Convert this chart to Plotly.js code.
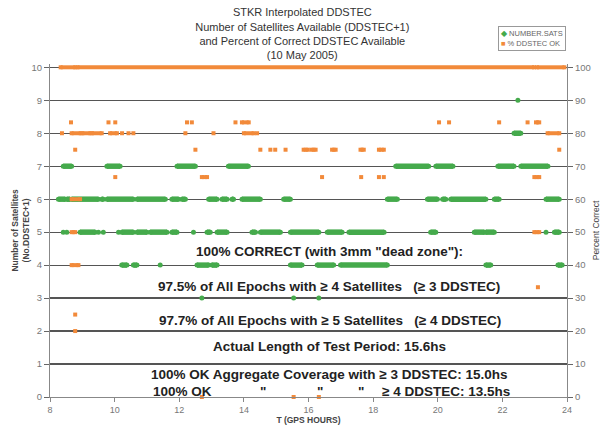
<!DOCTYPE html>
<html>
<head>
<meta charset="utf-8">
<script src="https://cdn.plot.ly/plotly-3.0.1.min.js"></script>
<style>
  html, body { margin: 0; padding: 0; background: #fff; }
  #chart { width: 601px; height: 428px; }
</style>
</head>
<body>
<div id="chart"></div>
<script>
// ---- Data (GPS hours; each entry is an observed run start/end, equal start & end = single epoch) ----
// Number of satellites available
const satStart = [22.48, 22.36,
  8.41, 9.76, 11.93, 13.52, 18.70, 19.94, 21.86, 22.57,
  8.26, 8.52, 8.67, 9.60, 9.76, 10.69, 11.77, 12.08, 12.91, 13.32, 13.63, 13.94, 15.23, 18.44, 19.68, 20.15, 20.40, 21.75, 23.35,
  8.41, 8.52, 8.93, 9.50, 9.65, 10.12, 10.22, 10.69, 11.10, 11.77, 12.44, 12.86, 13.17, 14.25, 14.51, 15.44, 16.58, 17.25, 19.78, 21.13, 21.49, 23.35, 23.61,
  10.22, 10.58, 11.41, 12.55, 13.01, 15.44, 16.27, 16.99, 21.49, 23.72,
  12.70, 15.54, 16.32];
const satEnd = [22.48, 22.57,
  8.67, 10.17, 12.50, 14.14, 19.72, 20.47, 22.36, 23.41,
  8.47, 8.62, 9.50, 9.65, 10.58, 11.57, 11.98, 12.19, 13.17, 13.48, 13.68, 14.51, 15.44, 18.75, 19.99, 20.25, 21.49, 21.90, 23.76,
  8.41, 8.52, 9.40, 9.50, 9.65, 10.12, 10.58, 11.00, 11.62, 11.93, 12.44, 12.96, 13.48, 14.36, 15.13, 16.32, 17.04, 18.34, 19.94, 21.44, 21.75, 23.35, 23.76,
  10.38, 10.69, 11.41, 12.91, 13.17, 15.80, 16.78, 18.44, 21.64, 23.85,
  12.70, 15.54, 16.32];
const satCount = [9, 8,
  7, 7, 7, 7, 7, 7, 7, 7,
  6, 6, 6, 6, 6, 6, 6, 6, 6, 6, 6, 6, 6, 6, 6, 6, 6, 6, 6,
  5, 5, 5, 5, 5, 5, 5, 5, 5, 5, 5, 5, 5, 5, 5, 5, 5, 5, 5, 5, 5, 5, 5,
  4, 4, 4, 4, 4, 4, 4, 4, 4, 4,
  3, 3, 3];

// Percent of correct DDSTEC
const pctStart = [8.33, 8.85, 23.07,
  8.65, 9.81, 10.02, 12.24, 12.39, 13.74, 13.94, 20.04, 20.35, 21.90, 22.78, 23.04,
  8.37, 8.67, 9.00, 9.30, 9.86, 10.23, 10.43, 10.58, 12.19, 13.06, 14.00, 14.41, 23.40,
  8.78, 12.50, 14.51, 14.82, 14.97, 15.29, 15.85, 16.10, 16.73, 17.61, 18.18, 23.76,
  10.02, 12.70, 16.42, 17.63, 18.18, 18.33, 22.99,
  8.67, 8.67, 22.99, 8.67, 23.10, 8.78, 8.78,
  12.70, 15.54, 16.32];
const pctEnd = [8.78, 22.98, 23.92,
  8.65, 9.81, 10.02, 12.24, 12.39, 13.74, 14.15, 20.04, 20.35, 21.90, 22.78, 23.14,
  8.37, 8.95, 9.25, 9.60, 10.07, 10.23, 10.43, 10.58, 12.19, 13.06, 14.30, 14.41, 23.76,
  8.78, 12.50, 14.51, 14.82, 14.97, 15.29, 15.98, 16.22, 16.84, 17.71, 18.33, 23.76,
  10.02, 12.86, 16.42, 17.63, 18.18, 18.33, 23.14,
  8.93, 8.78, 23.14, 8.88, 23.10, 8.78, 8.78,
  12.70, 15.54, 16.32];
const pctValue = [100, 100, 100,
  83.3, 83.3, 83.3, 83.3, 83.3, 83.3, 83.3, 83.3, 83.3, 83.3, 83.3, 83.3,
  80, 80, 80, 80, 80, 80, 80, 80, 80, 80, 80, 80, 80,
  75, 75, 75, 75, 75, 75, 75, 75, 75, 75, 75, 75,
  66.7, 66.7, 66.7, 66.7, 66.7, 66.7, 66.7,
  60, 50, 50, 40, 33.3, 25, 20,
  0, 0, 0];

const xTicks = [8, 10, 12, 14, 16, 18, 20, 22, 24];
const yTicks = [0, 1, 2, 3, 4, 5, 6, 7, 8, 9, 10];
const y2Ticks = [0, 10, 20, 30, 40, 50, 60, 70, 80, 90, 100];
const seriesNames = ['NUMBER.SATS', '% DDSTEC OK'];

function runs(starts, ends, vals) {
  const x = [], y = [];
  for (let i = 0; i < starts.length; i++) {
    if (starts[i] === ends[i]) { x.push(starts[i], null); y.push(vals[i], null); }
    else { x.push(starts[i], ends[i], null); y.push(vals[i], vals[i], null); }
  }
  return {x, y};
}

const GREEN = '#45aa4c';
const ORANGE = '#f28a3a';
const sat = runs(satStart, satEnd, satCount);
const pct = runs(pctStart, pctEnd, pctValue);

const traces = [
  {x: sat.x, y: sat.y, type: 'scatter', mode: 'lines+markers', name: seriesNames[0],
   line: {color: GREEN, width: 5.5}, marker: {color: GREEN, size: 5, symbol: 'circle'},
   connectgaps: false, cliponaxis: false, showlegend: false, xaxis: 'x', yaxis: 'y'},
  {x: pct.x, y: pct.y, type: 'scatter', mode: 'lines+markers', name: seriesNames[1],
   line: {color: ORANGE, width: 4}, marker: {color: ORANGE, size: 4, symbol: 'square'},
   connectgaps: false, cliponaxis: false, showlegend: false, xaxis: 'x', yaxis: 'y2'}
];

const FONT = 'Liberation Sans, Arial, sans-serif';
const annFont = {family: FONT, size: 13.5, color: '#222'};
function ann(text, x, y, xanchor) {
  return {text: '<b>' + text + '</b>', x: x, y: y, xref: 'x', yref: 'y',
          showarrow: false, font: annFont, xanchor: xanchor || 'center', yanchor: 'middle'};
}
const NB = '\u00a0';

const layout = {
  width: 601, height: 428,
  margin: {l: 50, r: 34, t: 64, b: 31, pad: 0},
  paper_bgcolor: '#fff', plot_bgcolor: '#fff',
  font: {family: FONT, color: '#666'},
  showlegend: false,
  title: {
    text: 'STKR Interpolated DDSTEC<br>Number of Satellites Available (DDSTEC+1)<br>and Percent of Correct DDSTEC Available<br>(10 May 2005)',
    font: {family: FONT, size: 11, color: '#333'},
    x: 0.503, xanchor: 'center', xref: 'container',
    y: 0.962, yanchor: 'top', yref: 'container'
  },
  xaxis: {
    range: [8, 24], tickvals: xTicks, ticks: 'outside', ticklen: 4, tickcolor: '#888',
    showline: true, linecolor: '#888', linewidth: 1, showgrid: false, zeroline: false,
    tickfont: {family: FONT, size: 9, color: '#777'},
    title: {text: '<b>T (GPS HOURS)</b>', font: {family: FONT, size: 8.5, color: '#444'}, standoff: 3}
  },
  yaxis: {
    range: [0, 10.1], tickvals: yTicks, ticks: 'outside', ticklen: 5, tickcolor: '#666',
    showline: true, linecolor: '#888', linewidth: 1,
    showgrid: true, gridcolor: '#555', gridwidth: 1.2, zeroline: false,
    tickfont: {family: FONT, size: 9.5, color: '#777'}
  },
  yaxis2: {
    overlaying: 'y', side: 'right', range: [0, 101], tickvals: y2Ticks,
    ticks: 'outside', ticklen: 5, tickcolor: '#666',
    showline: true, linecolor: '#888', linewidth: 1, showgrid: false, zeroline: false,
    tickfont: {family: FONT, size: 9.5, color: '#777'},
    title: {text: 'Percent Correct', font: {family: FONT, size: 8.5, color: '#444'}, standoff: 4}
  },
  annotations: [
    {text: '<b>Number of Satellites<br>(No.DDSTEC+1)</b>', xref: 'paper', yref: 'paper',
     x: -0.058, y: 0.5, xanchor: 'center', yanchor: 'middle', textangle: -90, showarrow: false,
     font: {family: FONT, size: 8.5, color: '#444'}},
    ann('100% CORRECT (with 3mm "dead zone"):', 16.65, 4.42),
    ann('97.5% of All Epochs with ≥ 4 Satellites' + NB + NB + NB + '(≥ 3 DDSTEC)', 16.62, 3.36),
    ann('97.7% of All Epochs with ≥ 5 Satellites' + NB + NB + NB + '(≥ 4 DDSTEC)', 16.65, 2.33),
    ann('Actual Length of Test Period: 15.6hs', 16.65, 1.52),
    ann('100% OK Aggregate Coverage with ≥ 3 DDSTEC: 15.0hs', 16.65, 0.67),
    ann('100% OK', 11.13, 0.18, 'left'),
    ann('"', 14.60, 0.18),
    ann('"', 16.37, 0.18),
    ann('"', 17.64, 0.18),
    ann('≥ 4 DDSTEC: 13.5hs', 18.20, 0.18, 'left'),
    {text: '<span style="color:' + GREEN + '">◆</span> ' + seriesNames[0] + '<br><span style="color:' + ORANGE + '">■</span> ' + seriesNames[1],
     xref: 'paper', yref: 'paper', x: 0.866, y: 1.115, xanchor: 'left', yanchor: 'top',
     align: 'left', showarrow: false, bordercolor: '#999', borderwidth: 1, borderpad: 2,
     bgcolor: '#fff', font: {family: FONT, size: 7.5, color: '#666'}}
  ]
};

Plotly.newPlot('chart', traces, layout, {displayModeBar: false, staticPlot: true});
</script>
</body>
</html>
